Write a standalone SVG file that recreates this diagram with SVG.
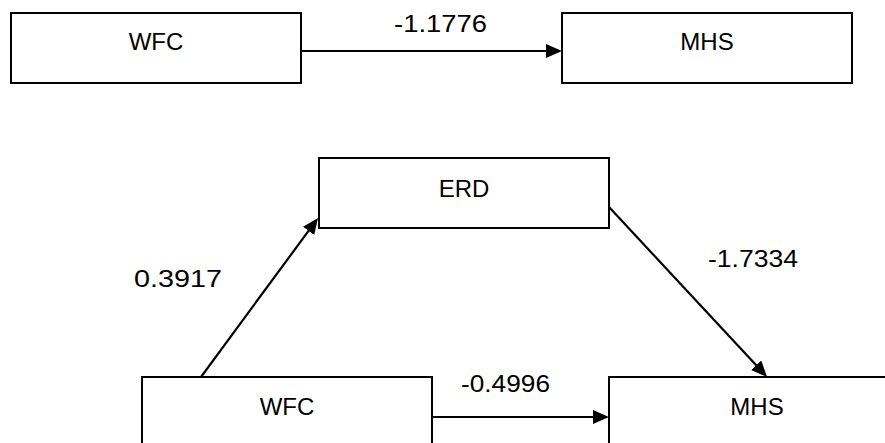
<svg xmlns="http://www.w3.org/2000/svg" width="885" height="443" viewBox="0 0 885 443">
  <style>
    .box { fill: #ffffff; stroke: #000000; stroke-width: 2; }
    .lbl { font-family: "Liberation Sans", Arial, sans-serif; font-size: 24px; fill: #000000; text-anchor: middle; }
    .num { font-family: "Liberation Sans", Arial, sans-serif; font-size: 24px; fill: #000000; }
    .edge { stroke: #000000; stroke-width: 2.2; fill: none; marker-end: url(#head); }
  </style>
  <defs>
    <marker id="head" markerUnits="userSpaceOnUse" markerWidth="16" markerHeight="14" refX="8" refY="7" orient="auto">
      <path d="M0,0 L16,7 L0,14 Z" fill="#000000"/>
    </marker>
  </defs>

  <rect width="885" height="443" fill="#ffffff"/>

  <!-- total effect model -->
  <g id="wfc-total">
    <rect class="box" x="11" y="13" width="290" height="70"/>
    <text class="lbl" x="156" y="50">WFC</text>
  </g>
  <g id="mhs-total">
    <rect class="box" x="562" y="13" width="290" height="70"/>
    <text class="lbl" x="707" y="50">MHS</text>
  </g>

  <!-- mediation model -->
  <g id="erd">
    <rect class="box" x="319" y="158" width="290" height="70"/>
    <text class="lbl" x="464" y="197">ERD</text>
  </g>
  <g id="wfc">
    <rect class="box" x="142" y="377" width="290" height="80"/>
    <text class="lbl" x="287" y="415">WFC</text>
  </g>
  <g id="mhs">
    <rect class="box" x="609" y="377" width="296" height="80"/>
    <text class="lbl" x="757" y="415">MHS</text>
  </g>

  <g id="connectors">
    <line class="edge" x1="301" y1="51" x2="554" y2="51"/>
    <line class="edge" x1="201" y1="377" x2="313.3" y2="224.4"/>
    <line class="edge" x1="609" y1="207" x2="761.6" y2="371.1"/>
    <line class="edge" x1="432" y1="417" x2="601" y2="417"/>
    <text class="num" x="394" y="32" textLength="93" lengthAdjust="spacingAndGlyphs">-1.1776</text>
    <text class="num" x="134" y="287" textLength="88" lengthAdjust="spacingAndGlyphs">0.3917</text>
    <text class="num" x="708" y="267" textLength="90" lengthAdjust="spacingAndGlyphs">-1.7334</text>
    <text class="num" x="461" y="392" textLength="89" lengthAdjust="spacingAndGlyphs">-0.4996</text>
  </g>
</svg>
